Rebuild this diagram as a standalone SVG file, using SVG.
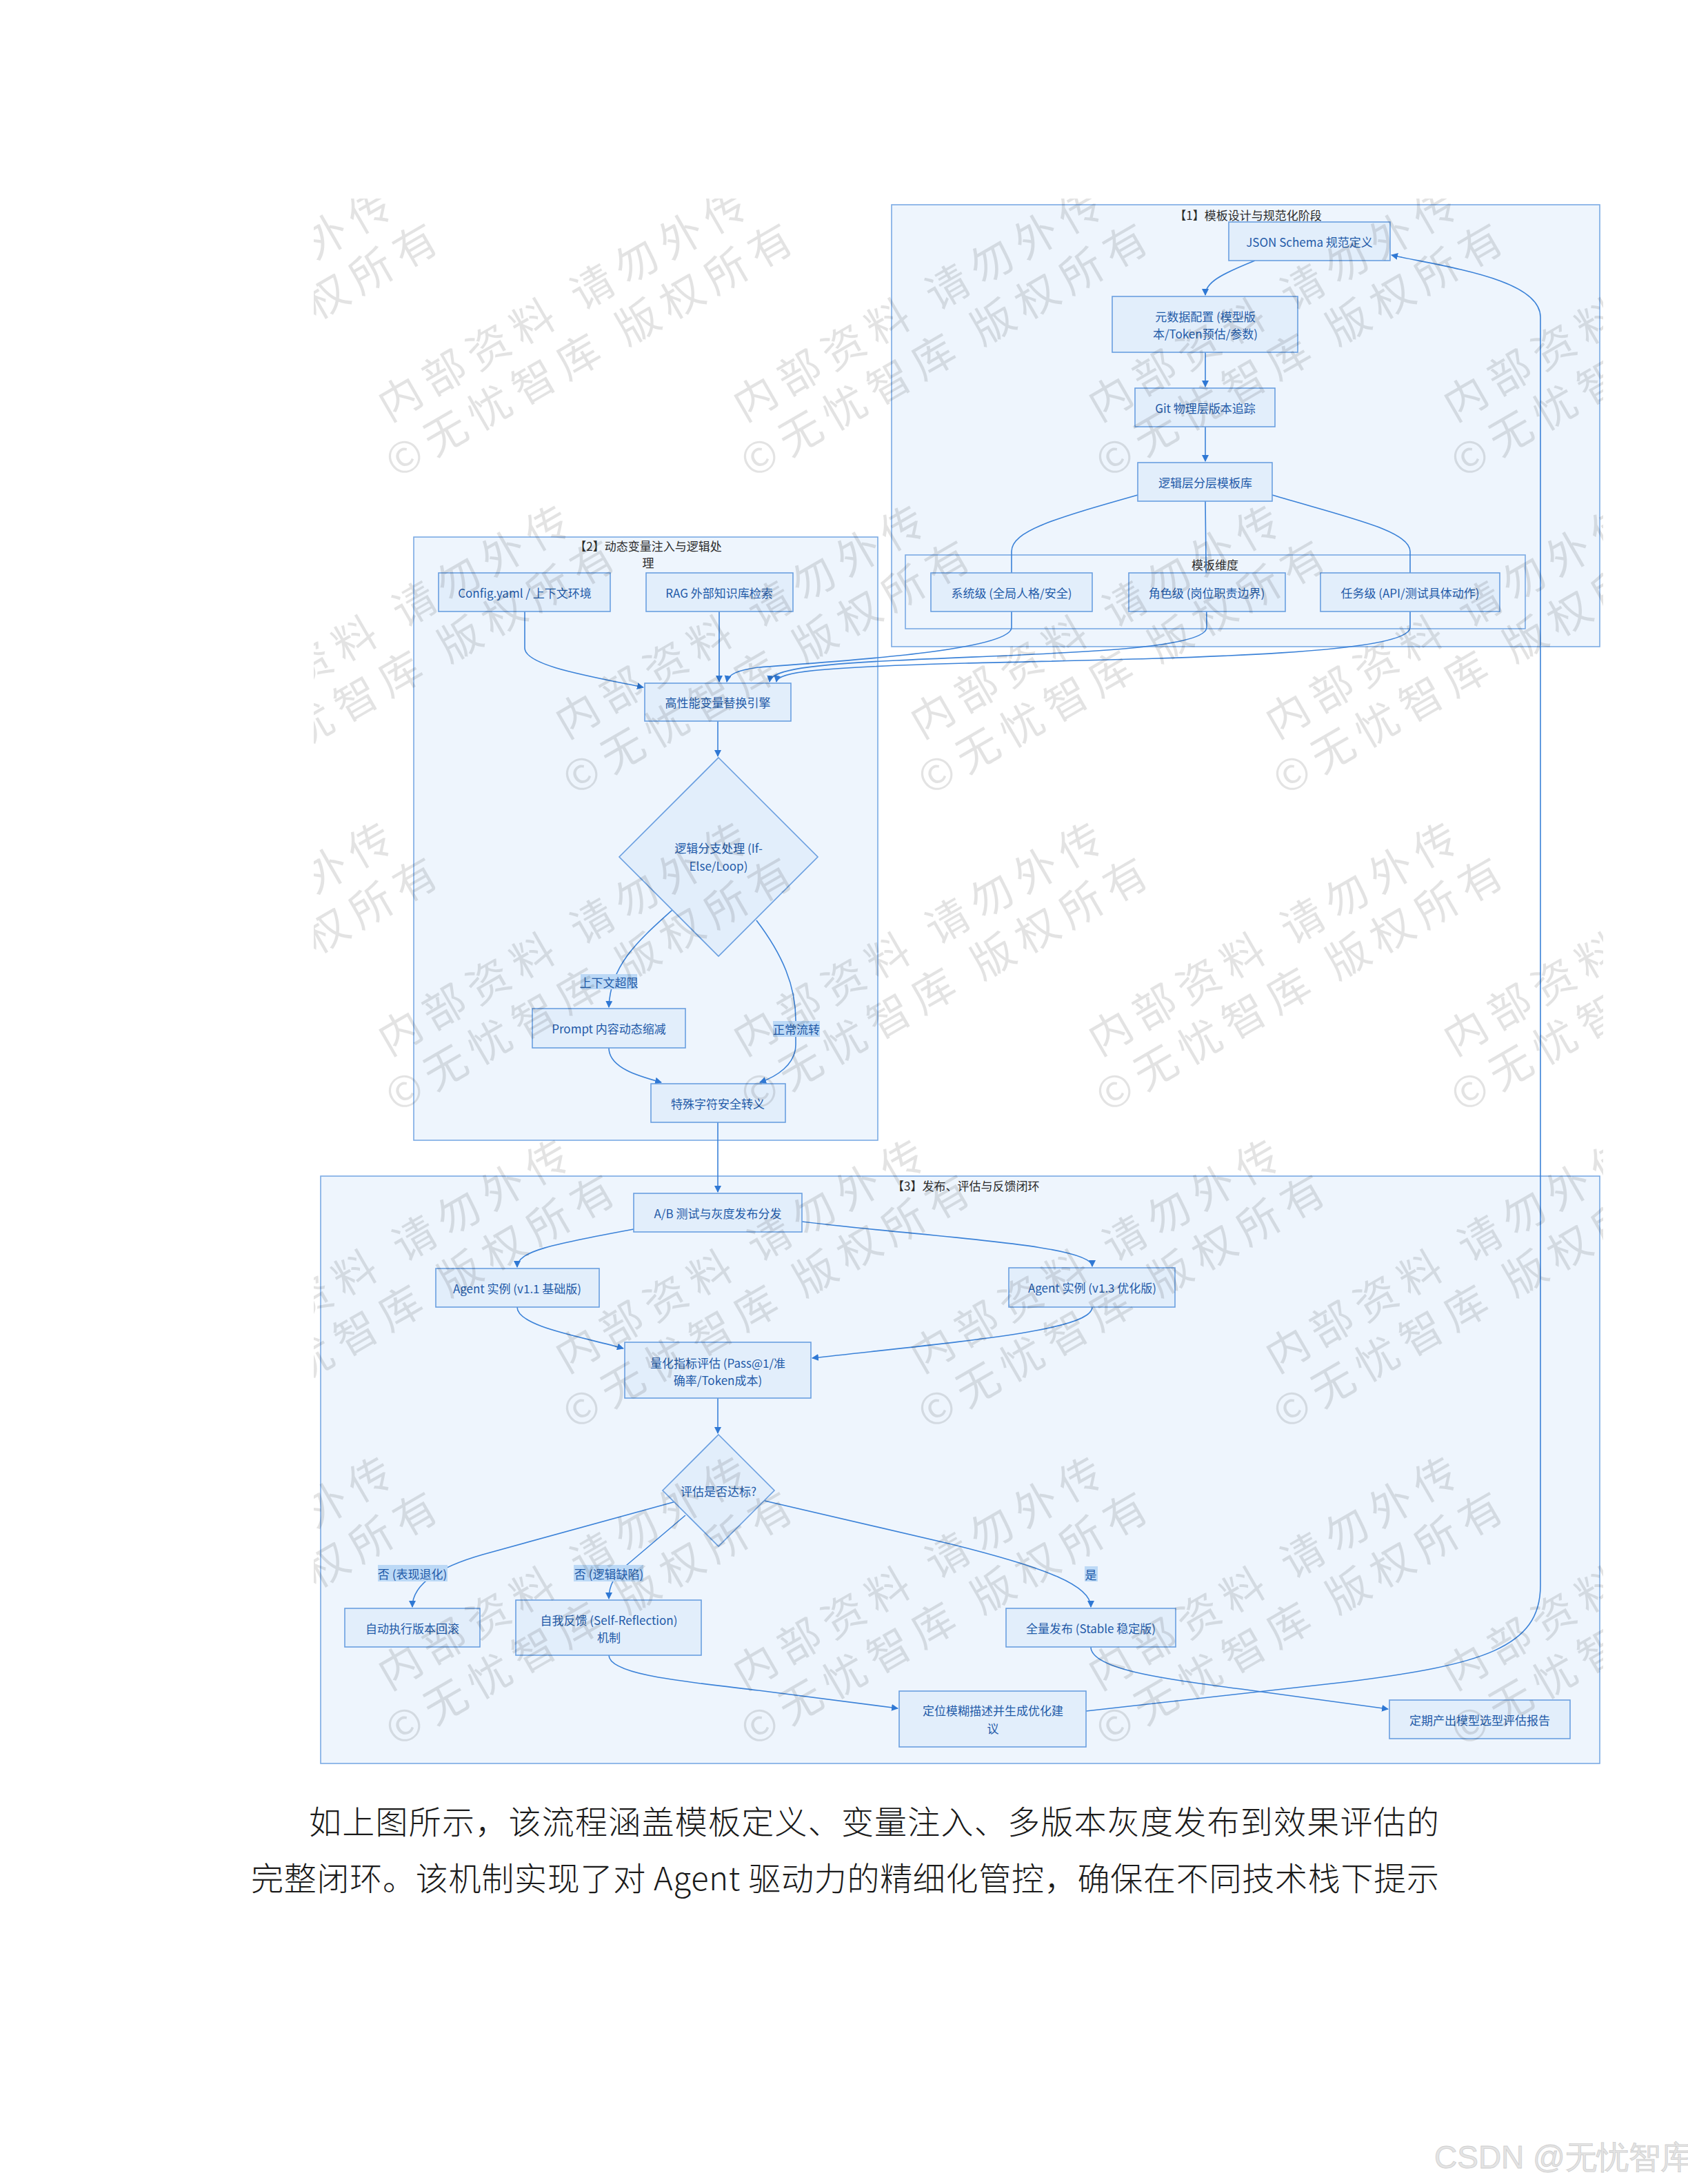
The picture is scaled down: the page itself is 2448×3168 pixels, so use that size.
<svg xmlns="http://www.w3.org/2000/svg" width="2448" height="3168" viewBox="0 0 2448 3168">
<style>
.cl{fill:#eef5fd;stroke:#7aaae4;stroke-width:1.6}
.nd{fill:#e2eefb;stroke:#6a9fe0;stroke-width:1.6}
.t{font-family:"Noto Sans CJK SC","Noto Sans",sans-serif;font-size:17px;fill:#1f5aa8;text-anchor:middle;dominant-baseline:central}
.ct{font-family:"Noto Sans CJK SC","Noto Sans",sans-serif;font-size:17px;fill:#2b2b2b;text-anchor:middle;dominant-baseline:central}
.e{fill:none;stroke:#3b82d8;stroke-width:1.6;marker-end:url(#ah)}
.lb{fill:#bcd9f6}
.wm{font-family:"Noto Sans CJK SC",sans-serif;font-size:62px;letter-spacing:12px;fill:#000;fill-opacity:0.11;text-anchor:middle}
.body{font-family:"Noto Sans CJK SC",sans-serif;font-size:47px;font-weight:300;fill:#1a1a1a}
</style>
<defs>
<marker id="ah" viewBox="0 0 10 10" refX="9" refY="5" markerWidth="10" markerHeight="10" markerUnits="userSpaceOnUse" orient="auto">
<path d="M0,0 L10,5 L0,10 z" fill="#2f78d4"/>
</marker>
<clipPath id="imgclip"><rect x="455" y="288" width="1870" height="2277"/></clipPath>
<g id="wmblock">
<text class="wm" x="0" y="0">内部资料 请勿外传</text>
<text class="wm" x="0" y="77">©无忧智库 版权所有</text>
</g>
</defs>
<rect width="2448" height="3168" fill="#ffffff"/>

<g id="clusters">
<g id="cluster1"><rect class="cl" x="1293" y="297" width="1027" height="641"/><text class="ct" x="1810" y="311">【1】模板设计与规范化阶段</text></g>
<g id="cluster1b"><rect class="cl" x="1313" y="805" width="899" height="107"/><text class="ct" x="1762" y="818">模板维度</text></g>
<g id="cluster2"><rect class="cl" x="600" y="779" width="673" height="875"/><text class="ct" x="940" y="791">【2】动态变量注入与逻辑处</text><text class="ct" x="940" y="815">理</text></g>
<g id="cluster3"><rect class="cl" x="465" y="1706" width="1855" height="852"/><text class="ct" x="1294" y="1719" style="text-anchor:start">【3】发布、评估与反馈闭环</text></g>
</g>

<g id="connectors">
<path class="e" d="M1820,378 C1770,398 1748,410 1748,428"/>
<path class="e" d="M1748,511 L1748,561"/>
<path class="e" d="M1748,619 L1748,669"/>
<path class="e" d="M1650,718 C1530,752 1467,770 1467,800 L1467,910 C1467,945 1200,960 1100,968 C1070,972 1056,978 1054,989"/>
<path class="e" d="M1748,727 L1750,910 C1750,945 1500,948 1300,958 C1150,965 1118,975 1116,989"/>
<path class="e" d="M1845,718 C1960,752 2045,770 2045,800 L2045,910 C2045,950 1700,955 1400,962 C1180,968 1128,975 1126,989"/>
<path class="e" d="M761,887 L761,940 C761,965 850,980 933,997"/>
<path class="e" d="M1043,887 L1043,989"/>
<path class="e" d="M1041,1046 L1041,1097"/>
<path class="e" d="M975,1320 C925,1365 885,1400 883,1461"/>
<path class="e" d="M1097,1335 C1135,1385 1154,1430 1154,1480 L1154,1515 C1154,1545 1125,1562 1102,1570"/>
<path class="e" d="M883,1520 C883,1550 930,1562 959,1570"/>
<path class="e" d="M1041,1628 L1041,1729"/>
<path class="e" d="M919,1783 C800,1805 750,1815 750,1838"/>
<path class="e" d="M1163,1772 C1350,1795 1584,1805 1584,1837"/>
<path class="e" d="M750,1896 C750,1925 850,1940 904,1956"/>
<path class="e" d="M1584,1896 C1584,1930 1400,1945 1178,1970"/>
<path class="e" d="M1041,2028 L1041,2079"/>
<path class="e" d="M980,2178 L700,2255 C630,2275 598,2300 598,2331"/>
<path class="e" d="M994,2198 L915,2265 C890,2285 883,2300 883,2319"/>
<path class="e" d="M1109,2177 L1380,2240 C1520,2275 1582,2300 1582,2331"/>
<path class="e" d="M883,2401 C883,2430 1000,2440 1100,2452 L1302,2478"/>
<path class="e" d="M1582,2389 C1582,2420 1680,2435 1800,2450 L2013,2479"/>
<path class="e" d="M1575,2482 L1950,2440 C2150,2415 2234,2390 2234,2300 L2234,460 C2234,405 2100,388 2018,370"/>
</g>

<g id="n-json"><rect class="nd" x="1782" y="322" width="234" height="56"/><text class="t" x="1899" y="350">JSON Schema 规范定义</text></g>
<g id="n-meta"><rect class="nd" x="1613" y="430" width="269" height="81"/><text class="t" x="1748" y="458">元数据配置 (模型版</text><text class="t" x="1748" y="483">本/Token预估/参数)</text></g>
<g id="n-git"><rect class="nd" x="1646" y="563" width="203" height="56"/><text class="t" x="1748" y="591">Git 物理层版本追踪</text></g>
<g id="n-lib"><rect class="nd" x="1650" y="671" width="195" height="56"/><text class="t" x="1748" y="699">逻辑层分层模板库</text></g>
<g id="n-sys"><rect class="nd" x="1350" y="831" width="234" height="56"/><text class="t" x="1467" y="859">系统级 (全局人格/安全)</text></g>
<g id="n-role"><rect class="nd" x="1637" y="831" width="227" height="56"/><text class="t" x="1750" y="859">角色级 (岗位职责边界)</text></g>
<g id="n-task"><rect class="nd" x="1915" y="831" width="260" height="56"/><text class="t" x="2045" y="859">任务级 (API/测试具体动作)</text></g>

<g id="n-config"><rect class="nd" x="636" y="831" width="249" height="56"/><text class="t" x="761" y="859">Config.yaml / 上下文环境</text></g>
<g id="n-rag"><rect class="nd" x="937" y="831" width="213" height="56"/><text class="t" x="1043" y="859">RAG 外部知识库检索</text></g>
<g id="n-engine"><rect class="nd" x="935" y="991" width="212" height="55"/><text class="t" x="1041" y="1018">高性能变量替换引擎</text></g>
<g id="n-branch"><polygon class="nd" points="1042,1099 1186,1243 1042,1387 898,1243"/><text class="t" x="1042" y="1229">逻辑分支处理 (If-</text><text class="t" x="1042" y="1255">Else/Loop)</text></g>
<g id="n-prompt"><rect class="nd" x="772" y="1463" width="222" height="57"/><text class="t" x="883" y="1491">Prompt 内容动态缩减</text></g>
<g id="n-escape"><rect class="nd" x="944" y="1572" width="195" height="56"/><text class="t" x="1041" y="1600">特殊字符安全转义</text></g>

<g id="n-ab"><rect class="nd" x="919" y="1731" width="244" height="56"/><text class="t" x="1041" y="1759">A/B 测试与灰度发布分发</text></g>
<g id="n-v11"><rect class="nd" x="632" y="1840" width="237" height="56"/><text class="t" x="750" y="1868">Agent 实例 (v1.1 基础版)</text></g>
<g id="n-v13"><rect class="nd" x="1463" y="1839" width="241" height="57"/><text class="t" x="1584" y="1867">Agent 实例 (v1.3 优化版)</text></g>
<g id="n-metric"><rect class="nd" x="906" y="1947" width="270" height="81"/><text class="t" x="1041" y="1976">量化指标评估 (Pass@1/准</text><text class="t" x="1041" y="2001">确率/Token成本)</text></g>
<g id="n-eval"><polygon class="nd" points="1042,2081 1123,2162 1042,2243 961,2162"/><text class="t" x="1042" y="2162">评估是否达标?</text></g>
<g id="n-rollback"><rect class="nd" x="500" y="2333" width="196" height="56"/><text class="t" x="598" y="2361">自动执行版本回滚</text></g>
<g id="n-self"><rect class="nd" x="748" y="2321" width="269" height="80"/><text class="t" x="883" y="2349">自我反馈 (Self-Reflection)</text><text class="t" x="883" y="2374">机制</text></g>
<g id="n-full"><rect class="nd" x="1459" y="2333" width="246" height="56"/><text class="t" x="1582" y="2361">全量发布 (Stable 稳定版)</text></g>
<g id="n-locate"><rect class="nd" x="1304" y="2453" width="271" height="81"/><text class="t" x="1440" y="2480">定位模糊描述并生成优化建</text><text class="t" x="1440" y="2506">议</text></g>
<g id="n-report"><rect class="nd" x="2015" y="2466" width="262" height="56"/><text class="t" x="2146" y="2494">定期产出模型选型评估报告</text></g>

<g id="edge-labels">
<rect class="lb" x="842" y="1413" width="82" height="22"/><text class="t" x="883" y="1424">上下文超限</text>
<rect class="lb" x="1121" y="1481" width="68" height="23"/><text class="t" x="1155" y="1492">正常流转</text>
<rect class="lb" x="548" y="2270" width="101" height="24"/><text class="t" x="598" y="2282">否 (表现退化)</text>
<rect class="lb" x="832" y="2270" width="101" height="24"/><text class="t" x="883" y="2282">否 (逻辑缺陷)</text>
<rect class="lb" x="1573" y="2272" width="19" height="22"/><text class="t" x="1582" y="2283">是</text>
</g>

<g id="watermark" clip-path="url(#imgclip)">
<use href="#wmblock" transform="translate(317,458) rotate(-30)"/>
<use href="#wmblock" transform="translate(832,458) rotate(-30)"/>
<use href="#wmblock" transform="translate(1347,458) rotate(-30)"/>
<use href="#wmblock" transform="translate(1862,458) rotate(-30)"/>
<use href="#wmblock" transform="translate(2377,458) rotate(-30)"/>
<use href="#wmblock" transform="translate(574,918) rotate(-30)"/>
<use href="#wmblock" transform="translate(1089,918) rotate(-30)"/>
<use href="#wmblock" transform="translate(1604,918) rotate(-30)"/>
<use href="#wmblock" transform="translate(2119,918) rotate(-30)"/>
<use href="#wmblock" transform="translate(2634,918) rotate(-30)"/>
<use href="#wmblock" transform="translate(317,1378) rotate(-30)"/>
<use href="#wmblock" transform="translate(832,1378) rotate(-30)"/>
<use href="#wmblock" transform="translate(1347,1378) rotate(-30)"/>
<use href="#wmblock" transform="translate(1862,1378) rotate(-30)"/>
<use href="#wmblock" transform="translate(2377,1378) rotate(-30)"/>
<use href="#wmblock" transform="translate(574,1838) rotate(-30)"/>
<use href="#wmblock" transform="translate(1089,1838) rotate(-30)"/>
<use href="#wmblock" transform="translate(1604,1838) rotate(-30)"/>
<use href="#wmblock" transform="translate(2119,1838) rotate(-30)"/>
<use href="#wmblock" transform="translate(2634,1838) rotate(-30)"/>
<use href="#wmblock" transform="translate(317,2298) rotate(-30)"/>
<use href="#wmblock" transform="translate(832,2298) rotate(-30)"/>
<use href="#wmblock" transform="translate(1347,2298) rotate(-30)"/>
<use href="#wmblock" transform="translate(1862,2298) rotate(-30)"/>
<use href="#wmblock" transform="translate(2377,2298) rotate(-30)"/>
</g>

<g id="body-text">
<text class="body" x="448" y="2660" textLength="1639" lengthAdjust="spacing">如上图所示，该流程涵盖模板定义、变量注入、多版本灰度发布到效果评估的</text>
<text class="body" x="364" y="2742" textLength="1723" lengthAdjust="spacing">完整闭环。该机制实现了对 Agent 驱动力的精细化管控，确保在不同技术栈下提示</text>
</g>
<text x="2080" y="3145" font-family="Liberation Sans, Arial, sans-serif" font-size="46" fill="#e4e4e4" stroke="#cfcfcf" stroke-width="0.8">CSDN @无忧智库</text>
</svg>
